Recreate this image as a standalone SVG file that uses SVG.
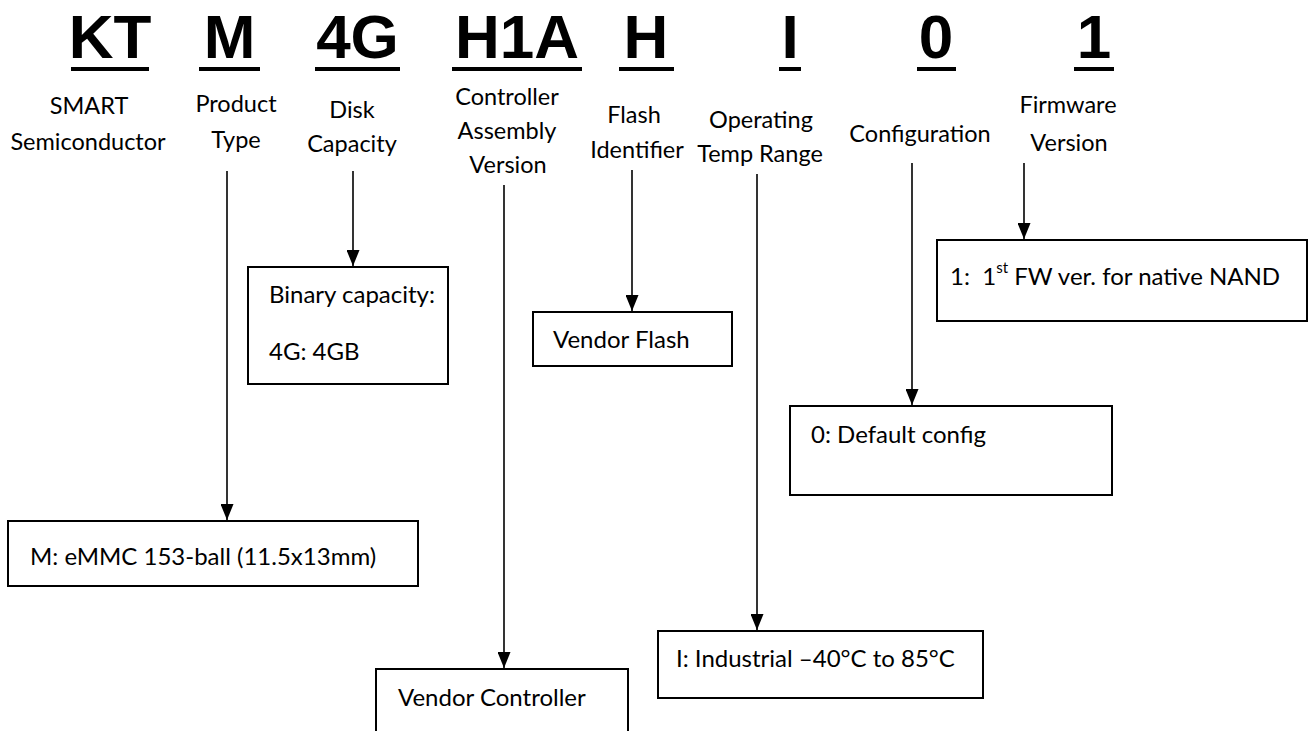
<svg xmlns="http://www.w3.org/2000/svg" width="1309" height="731" viewBox="0 0 1309 731">
<style>
.h{font-family:"Liberation Sans",Arial,sans-serif;font-weight:bold;font-size:62px;fill:#000;text-anchor:middle}
.l{font-family:Lato,"Open Sans",sans-serif;font-size:23.5px;fill:#000;text-anchor:middle}
.t{font-family:Lato,"Open Sans",sans-serif;font-size:24px;fill:#000}
.u{fill:#000}
.box{fill:#fff;stroke:#000;stroke-width:2}
.c{stroke:#000;stroke-width:1.6;fill:none}
</style>
<defs>
<marker id="ah" markerWidth="16" markerHeight="13" refX="16" refY="6.5" orient="auto" markerUnits="userSpaceOnUse" viewBox="0 0 16 13">
<path d="M0,0 L16,6.5 L0,13 Z" fill="#000"/>
</marker>
</defs>
<rect width="1309" height="731" fill="#fff"/>
<g id="headings">
<text class="h" x="110" y="58">KT</text><rect class="u" x="71" y="67" width="78" height="4"/>
<text class="h" x="229.5" y="58">M</text><rect class="u" x="199" y="67" width="61" height="4"/>
<text class="h" x="357.5" y="58">4G</text><rect class="u" x="315" y="67" width="85" height="4"/>
<text class="h" x="517" y="58">H1A</text><rect class="u" x="452" y="67" width="130" height="4"/>
<text class="h" x="646" y="58">H</text><rect class="u" x="619" y="67" width="55" height="4"/>
<text class="h" x="790" y="58">I</text><rect class="u" x="779" y="67" width="22" height="4"/>
<text class="h" x="936" y="58">0</text><rect class="u" x="917" y="67" width="39" height="4"/>
<text class="h" x="1094" y="58">1</text><rect class="u" x="1074" y="67" width="40" height="4"/>
</g>
<g id="labels">
<text class="l" x="89" y="114">SMART</text>
<text class="l" x="88" y="150">Semiconductor</text>
<text class="l" x="236" y="112">Product</text>
<text class="l" x="236" y="148">Type</text>
<text class="l" x="352" y="118">Disk</text>
<text class="l" x="352" y="152">Capacity</text>
<text class="l" x="507" y="105">Controller</text>
<text class="l" x="507" y="139">Assembly</text>
<text class="l" x="508" y="173">Version</text>
<text class="l" x="634" y="123">Flash</text>
<text class="l" x="637" y="158">Identifier</text>
<text class="l" x="761" y="128">Operating</text>
<text class="l" x="760" y="162">Temp Range</text>
<text class="l" x="920" y="142">Configuration</text>
<text class="l" x="1068" y="113">Firmware</text>
<text class="l" x="1069" y="151">Version</text>
</g>
<g id="connectors">
<line class="c" x1="227" y1="171" x2="227" y2="520" marker-end="url(#ah)"/>
<line class="c" x1="353" y1="171" x2="353" y2="266" marker-end="url(#ah)"/>
<line class="c" x1="504" y1="185" x2="504" y2="668" marker-end="url(#ah)"/>
<line class="c" x1="632" y1="170" x2="632" y2="311" marker-end="url(#ah)"/>
<line class="c" x1="757" y1="174" x2="757" y2="630" marker-end="url(#ah)"/>
<line class="c" x1="912" y1="163" x2="912" y2="405" marker-end="url(#ah)"/>
<line class="c" x1="1024" y1="163" x2="1024" y2="239" marker-end="url(#ah)"/>
</g>
<g id="box-product">
<rect class="box" x="8" y="521" width="410" height="65"/>
<text class="t" x="30" y="565">M: eMMC 153-ball (11.5x13mm)</text>
</g>
<g id="box-capacity">
<rect class="box" x="248" y="267" width="200" height="117"/>
<text class="t" x="269" y="303">Binary capacity:</text>
<text class="t" x="269" y="360">4G: 4GB</text>
</g>
<g id="box-controller">
<path class="box" d="M376,733 V669 H628 V733"/>
<text class="t" x="398" y="706">Vendor Controller</text>
</g>
<g id="box-flash">
<rect class="box" x="533" y="312" width="199" height="54"/>
<text class="t" x="553" y="348">Vendor Flash</text>
</g>
<g id="box-temp">
<rect class="box" x="658" y="631" width="325" height="67"/>
<text class="t" x="676" y="667">I: Industrial –40°C to 85°C</text>
</g>
<g id="box-config">
<rect class="box" x="790" y="406" width="322" height="89"/>
<text class="t" x="811" y="443">0: Default config</text>
</g>
<g id="box-firmware">
<rect class="box" x="937" y="240" width="370" height="81"/>
<text class="t" x="950" y="285">1:&#160; 1<tspan font-size="15" dy="-12">st</tspan><tspan dy="12"> FW ver. for native NAND</tspan></text>
</g>
</svg>
